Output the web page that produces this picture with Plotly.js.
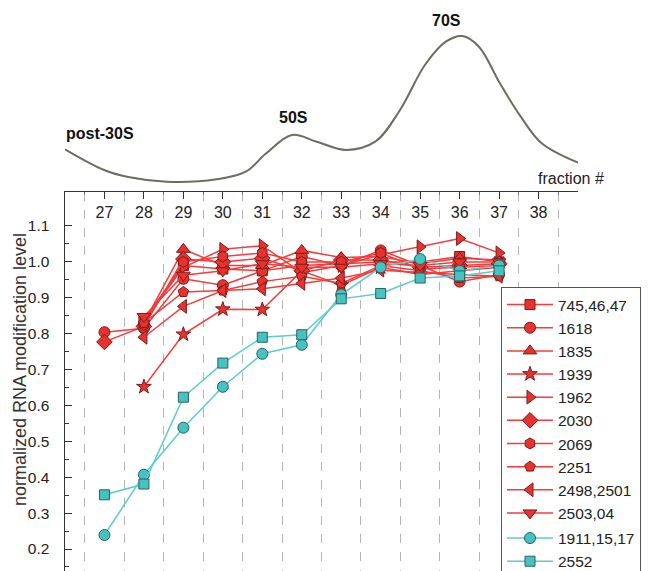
<!DOCTYPE html>
<html>
<head>
<meta charset="utf-8">
<script src="https://cdn.plot.ly/plotly-3.0.1.min.js"></script>
<style>html,body{margin:0;padding:0;background:#fff;}#chart{width:649px;height:571px;}</style>
</head>
<body>
<div id="chart"></div>
<script>
// fractions
const fractions = [27, 28, 29, 30, 31, 32, 33, 34, 35, 36, 37];
const fractionLabels = ["27","28","29","30","31","32","33","34","35","36","37","38"];
const fractionTicks = [27,28,29,30,31,32,33,34,35,36,37,38];

// series values (null = no value)
const s745   = [null, 0.840, 0.990, 0.980, 0.975, 0.990, 0.995, 1.000, 1.000, 1.015, 1.000];
const s1618  = [0.804, 0.815, 0.953, 0.935, 0.975, 1.015, 0.990, 1.032, 0.990, 0.945, 0.965];
const s1835  = [null, 0.830, 1.035, 0.990, 0.990, 1.032, 1.012, 1.015, 0.995, 1.010, 1.005];
const s1939  = [null, 0.652, 0.798, 0.868, 0.867, 0.975, 0.935, 0.985, 0.965, 0.975, 0.985];
const s1962  = [null, 0.835, 0.985, 1.035, 1.045, 0.970, 0.990, 1.020, 1.042, 1.065, 1.025];
const s2030  = [0.777, 0.820, 1.008, 1.000, 1.010, 0.975, 1.005, 1.005, 0.985, 0.990, 0.995];
const s2069  = [null, 0.825, 1.000, 1.015, 1.025, 1.000, 1.000, 1.025, 0.980, 0.985, 0.990];
const s2251  = [null, 0.830, 0.916, 0.920, 0.945, 0.960, 0.940, 0.990, 0.975, 0.955, 0.960];
const s2498  = [null, 0.790, 0.876, 0.920, 0.925, 0.940, 0.955, 0.977, 0.970, 0.965, 0.960];
const s2503  = [null, 0.848, 0.963, 0.975, 0.995, 0.985, 0.985, 0.995, 0.990, 1.000, 1.000];
const s1911  = [0.239, 0.407, 0.538, 0.652, 0.744, 0.769, 0.909, 0.985, 1.008, 0.975, 0.990];
const s2552  = [0.351, 0.381, 0.623, 0.718, 0.790, 0.797, 0.897, 0.912, 0.955, 0.961, 0.975];

const seriesNames = ["745,46,47","1618","1835","1939","1962","2030","2069","2251","2498,2501","2503,04","1911,15,17","2552"];

// sedimentation profile (fraction position, relative absorbance)
const profileX = [26.0, 26.99, 27.6, 28.58, 29.84, 30.58, 31.1, 31.75, 32.38, 33.12, 33.86, 34.49, 35.12, 35.65, 36.07, 36.49, 37.02, 37.55, 38.08, 39.0];
const profileY = [42.7, 22.0, 15.0, 10.3, 12.7, 20.3, 38.7, 57.0, 50.3, 42.0, 50.3, 82.0, 127.0, 150.3, 156.0, 145.3, 108.7, 75.3, 48.7, 29.3];

const seriesData = [s745, s1618, s1835, s1939, s1962, s2030, s2069, s2251, s2498, s2503, s1911, s2552];
const symbols = ["square","circle","triangle-up","star","triangle-right","diamond","hexagon","pentagon","triangle-left","triangle-down","circle","square"];
const sizes   = [10, 11, 12, 11, 12, 12, 11, 11, 12, 12, 11, 10];

const RED_LINE = "#f53b3b", RED_FILL = "#e8322d", RED_EDGE = "#7a1c1a";
const CY_LINE = "#5ccccc", CY_FILL = "#45c3c3", CY_EDGE = "#2c5f60";

const traces = [];
seriesData.forEach((vals, i) => {
  const cyan = i >= 10;
  traces.push({
    type: "scatter", mode: "lines+markers",
    x: fractions, y: vals, name: seriesNames[i],
    xaxis: "x", yaxis: "y",
    connectgaps: false,
    legendgroup: cyan ? "b" : "a",
    line: {color: cyan ? CY_LINE : RED_LINE, width: 1.5},
    marker: {symbol: symbols[i], size: sizes[i], color: cyan ? CY_FILL : RED_FILL,
             line: {color: cyan ? CY_EDGE : RED_EDGE, width: 1}}
  });
});
traces.push({
  type: "scatter", mode: "lines", x: profileX, y: profileY,
  xaxis: "x2", yaxis: "y2", showlegend: false, hoverinfo: "skip",
  line: {color: "#6d6d5f", width: 2, shape: "spline", smoothing: 1}
});

const H = 571, topPx = 192;
const mainTop = 1 - topPx / H;
const px = v => (v - 65) / 513;
const py = v => 1 - v / H;

function ann(text, x, y, size, color, extra) {
  return Object.assign({text: text, xref: "paper", yref: "paper", x: px(x), y: py(y),
    xanchor: "center", yanchor: "middle", showarrow: false,
    font: {size: size, color: color}}, extra || {});
}

const layout = {
  width: 649, height: 571,
  margin: {l: 65, r: 71, t: 0, b: 0, pad: 0, autoexpand: false},
  paper_bgcolor: "#fff", plot_bgcolor: "rgba(0,0,0,0)",
  font: {family: "Liberation Sans, Arial, sans-serif", color: "#222", size: 15},
  showlegend: true,
  xaxis: {
    domain: [0, 1], anchor: "y", side: "top", range: [26, 39], automargin: false,
    tickmode: "array", tickvals: fractionTicks, ticktext: fractionLabels,
    ticks: "inside", ticklen: 7, tickcolor: "#333", tickwidth: 1,
    ticklabelposition: "inside", ticklabelstandoff: 8,
    tickfont: {size: 16, color: "#222"},
    showline: true, linecolor: "#333", linewidth: 1.5,
    showgrid: false, zeroline: false,
    minor: {tickmode: "linear", tick0: 26.5, dtick: 1, ticks: "inside", ticklen: 3, tickcolor: "#777",
            showgrid: true, gridcolor: "#b5b5b5", griddash: "dash", gridwidth: 1}
  },
  yaxis: {
    domain: [0, mainTop], anchor: "x", range: [0.1387, 1.1947], automargin: false,
    tickmode: "linear", tick0: 0, dtick: 0.1, tickformat: ".1f",
    ticks: "inside", ticklen: 7, tickcolor: "#333",
    ticklabelstandoff: 11,
    tickfont: {size: 15.5, color: "#222"},
    showline: true, linecolor: "#333", linewidth: 1.5,
    showgrid: false, zeroline: false,
    minor: {dtick: 0.05, ticks: "inside", ticklen: 4, tickcolor: "#333", showgrid: false}
  },
  xaxis2: {domain: [0, 1], anchor: "y2", range: [26, 39], visible: false, showgrid: false},
  yaxis2: {domain: [mainTop, 1], anchor: "x2", range: [0, topPx], visible: false, showgrid: false},
  legend: {
    x: px(501), xanchor: "left", y: py(287), yanchor: "top",
    bgcolor: "#fff", bordercolor: "#555", borderwidth: 1,
    font: {size: 15.5, color: "#222"},
    traceorder: "grouped", tracegroupgap: 2, itemwidth: 46
  },
  annotations: [
    ann("<b>post-30S</b>", 100, 133, 16, "#111"),
    ann("<b>50S</b>", 293, 117, 16, "#111"),
    ann("<b>70S</b>", 446, 20, 16, "#111"),
    ann("fraction #", 571, 178, 16, "#222"),
    ann("normalized RNA modification level", 20, 370, 18, "#333", {textangle: -90})
  ]
};

Plotly.newPlot("chart", traces, layout, {displayModeBar: false, staticPlot: true});
</script>
</body>
</html>
